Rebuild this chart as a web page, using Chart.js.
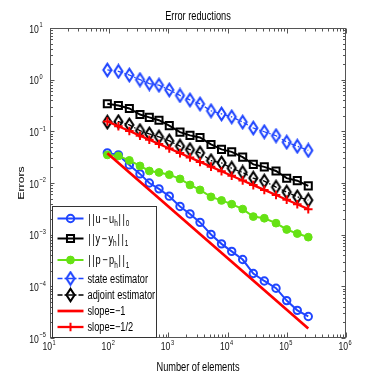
<!DOCTYPE html>
<html><head><meta charset="utf-8">
<style>html,body{margin:0;padding:0;background:#fff;}canvas{display:block;}</style>
<script src="https://cdn.jsdelivr.net/npm/chart.js@4.4.1/dist/chart.umd.min.js"></script>
</head><body>
<canvas id="c" width="382" height="382"></canvas>
<script>
// ---- data ----
const elements   = [93, 143, 219, 331, 476, 693, 1035, 1570, 2316, 3420, 5245, 7890, 11730, 17980, 27170, 41690, 65760, 99570, 150400, 230500];
const errU       = [0.0382, 0.035, 0.0224, 0.015, 0.010, 0.0077, 0.00556, 0.00352, 0.00252, 0.00173, 0.00101, 0.000664, 0.000475, 0.00033, 0.000177, 0.000127, 9.2e-5, 5.3e-5, 3.43e-5, 2.61e-5];
const errY       = [0.342, 0.317, 0.277, 0.211, 0.186, 0.164, 0.129, 0.0966, 0.0834, 0.0762, 0.0558, 0.0447, 0.040, 0.0317, 0.0229, 0.0205, 0.0171, 0.0124, 0.0111, 0.0088];
const errP       = [0.035, 0.0334, 0.0274, 0.0214, 0.0171, 0.016, 0.0145, 0.012, 0.00918, 0.00735, 0.00539, 0.0046, 0.00389, 0.00313, 0.00224, 0.00208, 0.00167, 0.00126, 0.00105, 0.000895];
const estState   = [1.54, 1.45, 1.23, 1.0, 0.84, 0.783, 0.633, 0.495, 0.405, 0.339, 0.25, 0.217, 0.191, 0.151, 0.116, 0.0982, 0.0822, 0.0618, 0.0515, 0.0428];
const estAdjoint = [0.151, 0.154, 0.133, 0.103, 0.0891, 0.078, 0.0652, 0.0518, 0.0443, 0.0382, 0.0271, 0.0245, 0.0193, 0.016, 0.0124, 0.0109, 0.0083, 0.00667, 0.00539, 0.00465];
const slopeOneX  = [93, 230500];
const slopeOne   = [0.0377, 1.52e-5];
const slopeHalf  = [0.1555, 0.1254, 0.1014, 0.0824, 0.0688, 0.057, 0.0466, 0.0379, 0.0312, 0.0256, 0.0207, 0.0169, 0.0138, 0.0112, 0.0091, 0.00735, 0.00585, 0.00475, 0.00387, 0.00312];
const seriesLabels = ['||u\u2212u_h||_0', '||y\u2212y_h||_1', '||p\u2212p_h||_1', 'state estimator', 'adjoint estimator', 'slope=\u22121', 'slope=\u22121/2'];
const xTickPowers = [1, 2, 3, 4, 5, 6];
const yTickPowers = [-5, -4, -3, -2, -1, 0, 1];
const titleText = 'Error reductions';
const xTitle = 'Number of elements';
const yTitle = 'Errors';

// ---- styling ----
const BLUE = '#1f45ff', BLACK = '#000000', GREEN = '#66e214', RED = '#ff0000';
const SX = 0.75;
const FONT = '"Liberation Sans", Arial, Helvetica, sans-serif';

function diamond(color) {
  const c = document.createElement('canvas'); c.width = 13; c.height = 16;
  const g = c.getContext('2d'); g.strokeStyle = color; g.lineWidth = 2.1;
  g.beginPath(); g.moveTo(6.5, 1.8); g.lineTo(10.5, 8); g.lineTo(6.5, 14.2); g.lineTo(2.5, 8); g.closePath(); g.stroke();
  return c;
}
const pts = (xs, ys) => xs.map((x, i) => ({x, y: ys[i]}));
const NONE = 'rgba(0,0,0,0)';

const datasets = [
  {label: seriesLabels[0], data: pts(elements, errU), borderColor: BLUE, borderWidth: 2, pointStyle: 'circle', pointRadius: 3.7, pointBorderWidth: 2, pointBorderColor: BLUE, pointBackgroundColor: NONE, order: 7},
  {label: seriesLabels[1], data: pts(elements, errY), borderColor: BLACK, borderWidth: 2, pointStyle: 'rect', pointRadius: 5, pointBorderWidth: 2, pointBorderColor: BLACK, pointBackgroundColor: NONE, order: 6},
  {label: seriesLabels[2], data: pts(elements, errP), borderColor: GREEN, borderWidth: 2, pointStyle: 'circle', pointRadius: 3.9, pointBorderWidth: 1, pointBorderColor: GREEN, pointBackgroundColor: GREEN, order: 5},
  {label: seriesLabels[3], data: pts(elements, estState), borderColor: BLUE, borderWidth: 1.3, borderDash: [5, 2, 1.5, 2], pointStyle: diamond(BLUE), pointRadius: 5, pointBorderWidth: 2, pointBorderColor: BLUE, pointBackgroundColor: NONE, order: 4},
  {label: seriesLabels[4], data: pts(elements, estAdjoint), borderColor: BLACK, borderWidth: 1.3, borderDash: [5, 2, 1.5, 2], pointStyle: diamond(BLACK), pointRadius: 5, pointBorderWidth: 2, pointBorderColor: BLACK, pointBackgroundColor: NONE, order: 3},
  {label: seriesLabels[5], data: pts(slopeOneX, slopeOne), borderColor: RED, borderWidth: 2.7, pointRadius: 0, order: 2},
  {label: seriesLabels[6], data: pts(elements, slopeHalf), borderColor: RED, borderWidth: 2.3, pointStyle: 'cross', pointRadius: 4.3, pointBorderWidth: 2, pointBorderColor: RED, pointBackgroundColor: RED, order: 1}
];

// ---- text helpers (compressed horizontally like the reference) ----
function drawStr(ctx, s, x, y, size) {
  ctx.font = size + 'px ' + FONT;
  let cx = x;
  for (const ch of s) {
    const w = ctx.measureText(ch).width * SX;
    if (ch === '|') {
      ctx.save(); ctx.translate(cx + 2 - w / 2, y); ctx.scale(SX, 1); ctx.fillText(ch, 0, 0); ctx.restore();
      cx += 4; continue;
    }
    if (ch === '\u2212' && s[0] === '|') {
      cx += 1.5;
      ctx.save(); ctx.translate(cx, y); ctx.scale(SX, 1); ctx.fillText(ch, 0, 0); ctx.restore();
      cx += w + 1.5; continue;
    }
    ctx.save(); ctx.translate(cx, y); ctx.scale(SX, 1); ctx.fillText(ch, 0, 0); ctx.restore();
    cx += w;
  }
  return cx - x;
}
function strWidth(ctx, s, size) {
  ctx.font = size + 'px ' + FONT;
  return ctx.measureText(s).width * SX;
}
function drawRich(ctx, label, x, y, size) {
  let cx = x, buf = '';
  const flush = () => { if (buf) { cx += drawStr(ctx, buf, cx, y, size); buf = ''; } };
  for (let i = 0; i < label.length; i++) {
    if (label[i] === '_') { flush(); cx += drawStr(ctx, label[i + 1], cx, y + 3.5, size * 0.7); i++; }
    else buf += label[i];
  }
  flush();
}
function powParts(p) { return ['10', p < 0 ? '\u2212' + Math.abs(p) : String(p)]; }
function simpleText(ctx, s, x, y, size, align) {
  const w = strWidth(ctx, s, size);
  const x0 = align === 'center' ? x - w / 2 : align === 'right' ? x - w : x;
  ctx.save(); ctx.translate(x0, y); ctx.scale(SX, 1); ctx.fillText(s, 0, 0); ctx.restore();
}

function marker(ctx, ds, x, y) {
  const st = ds.pointStyle, r = ds.pointRadius;
  if (!r) return;
  ctx.save();
  if (st instanceof HTMLCanvasElement) { ctx.drawImage(st, x - st.width / 2, y - st.height / 2); ctx.restore(); return; }
  ctx.lineWidth = ds.pointBorderWidth; ctx.strokeStyle = ds.pointBorderColor; ctx.fillStyle = ds.pointBackgroundColor;
  ctx.beginPath();
  if (st === 'circle') ctx.arc(x, y, r, 0, Math.PI * 2);
  else if (st === 'rect') { const s = r * Math.SQRT1_2; ctx.rect(x - s, y - s, 2 * s, 2 * s); }
  else if (st === 'cross') { ctx.moveTo(x, y - r); ctx.lineTo(x, y + r); ctx.moveTo(x - r, y); ctx.lineTo(x + r, y); }
  if (st !== 'cross') ctx.fill();
  ctx.stroke(); ctx.restore();
}

const axesPlugin = {
  id: 'matlabAxes',
  beforeDatasetsDraw(chart) {
    const ctx = chart.ctx, a = chart.chartArea, xs = chart.scales.x, ys = chart.scales.y;
    ctx.save();
    ctx.strokeStyle = '#555'; ctx.lineWidth = 1;
    const L = Math.round(a.left) + 0.5, R = Math.round(a.right) - 0.5, T = Math.round(a.top) + 0.5, B = Math.round(a.bottom) - 0.5;
    ctx.strokeRect(L, T, R - L, B - T);
    ctx.beginPath();
    for (let k = xTickPowers[0]; k <= xTickPowers[xTickPowers.length - 1]; k++) {
      for (let m = 1; m <= 9; m++) {
        const v = m * Math.pow(10, k);
        if (v < xs.min * 0.999 || v > xs.max * 1.001) continue;
        const px = Math.round(xs.getPixelForValue(v)) + 0.5;
        const len = m === 1 ? 5 : 3;
        ctx.moveTo(px, B); ctx.lineTo(px, B - len);
        ctx.moveTo(px, T); ctx.lineTo(px, T + len);
      }
    }
    for (let k = yTickPowers[0]; k <= yTickPowers[yTickPowers.length - 1]; k++) {
      for (let m = 1; m <= 9; m++) {
        const v = m * Math.pow(10, k);
        if (v < ys.min * 0.999 || v > ys.max * 1.001) continue;
        const py = Math.round(ys.getPixelForValue(v)) + 0.5;
        const len = m === 1 ? 4 : 2.5;
        ctx.moveTo(L, py); ctx.lineTo(L + len, py);
        ctx.moveTo(R, py); ctx.lineTo(R - len, py);
      }
    }
    ctx.stroke();
    ctx.restore();
  },
  afterDraw(chart) {
    const ctx = chart.ctx, a = chart.chartArea, xs = chart.scales.x, ys = chart.scales.y;
    ctx.save();
    ctx.fillStyle = '#111'; ctx.textBaseline = 'alphabetic';
    xTickPowers.forEach(p => {
      const [b, e] = powParts(p);
      const wb = strWidth(ctx, b, 11.5), we = strWidth(ctx, e, 7.5);
      const px = xs.getPixelForValue(Math.pow(10, p)) - 1;
      const x0 = px - (wb + we + 0.5) / 2;
      simpleText(ctx, b, x0, a.bottom + 12, 11.5, 'left');
      simpleText(ctx, e, x0 + wb + 0.5, a.bottom + 6.5, 7.5, 'left');
    });
    yTickPowers.forEach(p => {
      const [b, e] = powParts(p);
      const wb = strWidth(ctx, b, 11.5);
      const py = ys.getPixelForValue(Math.pow(10, p));
      simpleText(ctx, b, 29.3, py + 4.8, 11.5, 'left');
      simpleText(ctx, e, 29.3 + wb + 0.5, py - 0.8, 7.5, 'left');
    });
    ctx.fillStyle = '#000';
    simpleText(ctx, titleText, (a.left + a.right) / 2, 19.5, 12.3, 'center');
    simpleText(ctx, xTitle, (a.left + a.right) / 2, 371, 12.3, 'center');
    ctx.save();
    ctx.translate(24, (a.top + a.bottom) / 2); ctx.rotate(-Math.PI / 2); ctx.scale(1, SX);
    ctx.font = '12.3px ' + FONT; ctx.textAlign = 'center'; ctx.fillText(yTitle, 0, 0);
    ctx.restore();
    // legend
    const bx = 52.5, by = 206.5, bw = 104, bh = 131;
    ctx.fillStyle = '#fff'; ctx.fillRect(bx, by, bw, bh);
    ctx.strokeStyle = '#333'; ctx.lineWidth = 1; ctx.strokeRect(bx, by, bw, bh);
    const rows = [218.5, 238.5, 260, 278.5, 295, 311, 327];
    chart.data.datasets.forEach((ds, i) => {
      const y = rows[i];
      ctx.save();
      ctx.strokeStyle = ds.borderColor; ctx.lineWidth = ds.borderWidth; ctx.setLineDash(ds.borderDash || []);
      ctx.beginPath(); ctx.moveTo(57.5, y); ctx.lineTo(83.5, y); ctx.stroke();
      ctx.restore();
      marker(ctx, ds, 70.5, y);
      ctx.fillStyle = '#000';
      drawRich(ctx, ds.label, 87.5, y + 4.3, 12.3);
    });
    ctx.restore();
  }
};

new Chart(document.getElementById('c').getContext('2d'), {
  type: 'line',
  data: {datasets},
  options: {
    responsive: false, animation: false, events: [],
    layout: {padding: {left: 50, right: 36, top: 28, bottom: 44}},
    plugins: {legend: {display: false}, title: {display: false}, tooltip: {enabled: false}},
    elements: {line: {tension: 0, fill: false}},
    scales: {
      x: {type: 'logarithmic', min: 10, max: 1e6, display: false},
      y: {type: 'logarithmic', min: 1e-5, max: 10, display: false}
    }
  },
  plugins: [axesPlugin]
});
</script>
</body></html>
